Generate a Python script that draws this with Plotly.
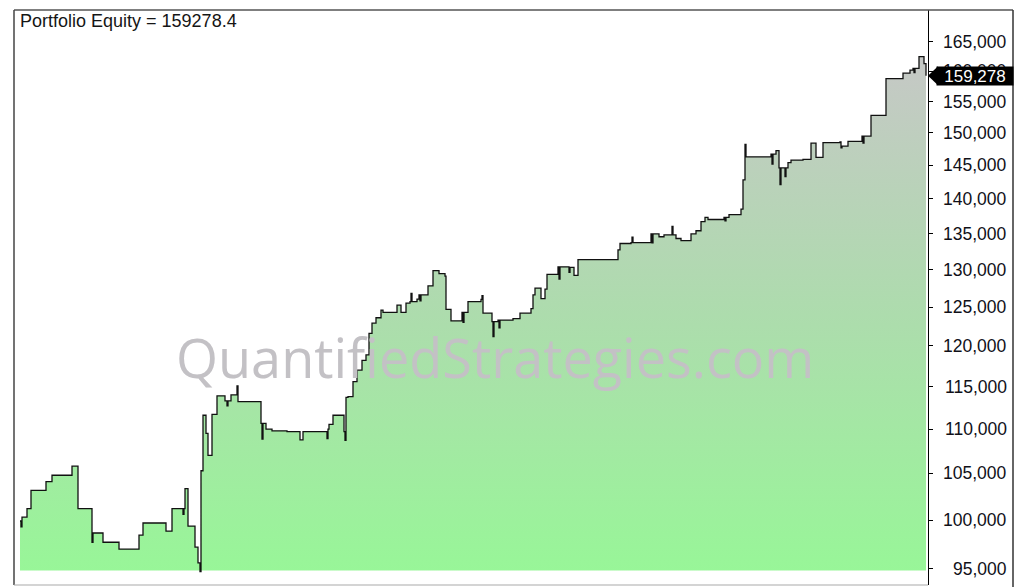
import numpy as np
import plotly.graph_objects as go

# ---------------- data ----------------
title_text = "Portfolio Equity = 159278.4"
watermark_text = "QuantifiedStrategies.com"
last_equity = 159278.4
base_level = 94850

day = [0, 1, 2, 7, 11, 26, 32, 52, 58, 72, 73, 83, 99, 119, 123, 146, 152, 163, 164, 165,
       168, 175, 178, 180, 181, 183, 186, 188, 192, 197, 205, 207, 208, 211, 217, 218, 241,
       242, 243, 246, 252, 267, 280, 283, 307, 308, 309, 313, 324, 325, 326, 328, 333, 337,
       342, 346, 349, 352, 356, 361, 363, 377, 381, 386, 390, 391, 392, 397, 399, 400, 401,
       408, 413, 419, 425, 426, 431, 442, 443, 444, 448, 461, 462, 463, 472, 473, 474, 478,
       479, 480, 493, 500, 511, 513, 515, 521, 525, 527, 538, 539, 540, 549, 550, 554, 558,
       598, 600, 611, 612, 613, 631, 632, 633, 639, 644, 651, 652, 653, 656, 661, 671, 676,
       681, 685, 688, 704, 705, 706, 709, 721, 723, 725, 726, 751, 752, 753, 756, 759, 760,
       761, 765, 766, 768, 771, 783, 791, 796, 803, 820, 821, 822, 828, 842, 843, 844, 851,
       866, 883, 890, 893, 894, 895, 899, 904, 906]
equity = [99900, 99300, 100300, 101200, 103150, 104100, 104800, 105800, 101200, 97700,
          98650, 97700, 97000, 98430, 99690, 98850, 101200, 100600, 101200, 103350, 99370,
          97200, 95610, 94750, 105300, 111600, 109500, 107000, 111700, 113900, 113300,
          112700, 113300, 114000, 115100, 113200, 110650, 108850, 110650, 110000, 109800,
          109700, 108750, 109700, 108900, 110000, 110540, 111600, 109700, 108700,
          113700, 113800, 115600, 117000, 118200, 118900, 121600, 122900, 123600, 124600,
          124300, 125240, 124300, 125500, 125700, 126800, 125700, 126040, 126600, 125800,
          126600, 127800, 129870, 129450, 129100, 124700, 123200, 124300, 123000, 124300,
          125700, 126000, 126500, 124200, 123100, 121200, 123100, 123300, 122300, 123300,
          123500, 124200, 124800, 126600, 127500, 126100, 127360, 129360, 130370, 128700,
          130370, 129630, 130300, 129200, 131370, 132700, 133600, 133730, 134500, 133730,
          134950, 133700, 134950, 134550, 134800, 134800, 136000, 134800, 134300, 134000,
          134950, 135400, 136700, 137300, 137000, 137300, 136800, 137300, 137700, 138500,
          142800, 148200, 146300, 146700, 145200, 146700, 147250, 144600, 142100, 144600,
          143300, 144600, 145420, 145800, 145900, 148400, 146200, 148500, 148600, 147700,
          147950, 148700, 149500, 148400, 149500, 152800, 158800, 159700, 160200, 160500,
          159800, 160500, 162500, 161300, 159278.4]

tick_values = [95000, 100000, 105000, 110000, 115000, 120000, 125000, 130000,
               135000, 140000, 145000, 150000, 155000, 160000, 165000]
tick_labels = [f"{v:,}" for v in tick_values]

# ---------------- geometry (page pixels; the page body has an 8px margin) ----------------
OFF = 8
W, H = 1026 - OFF, 587 - OFF
PL, PR, PT, PB = 14, 928, 10, 585          # plot area in page pixels
ML, MT = PL - OFF, PT - OFF
MR, MB = W - (PR - OFF), H - (PB - OFF)
PW, PH = PR - PL, PB - PT
Y0, Y1 = 4.97044, 5.23204


def px_x(p):
    return (p - PL) / PW


def px_y(p):
    return (PB - p) / PH


fig = go.Figure()

# baseline for the area fill
fig.add_trace(go.Scatter(
    x=[day[0], day[-1]], y=[base_level, base_level],
    mode="lines", line=dict(width=0, color="rgba(0,0,0,0)"),
    hoverinfo="skip", showlegend=False,
))

fig.add_trace(go.Scatter(
    x=day, y=equity, mode="lines",
    line=dict(color="#111111", width=1.3, shape="hv"),
    fill="tonexty",
    fillgradient=dict(type="vertical",
                      colorscale=[[0, "#98F698"], [0.5, "#ADDCAD"], [1, "#C6C8C6"]]),
    showlegend=False, hoverinfo="skip",
))

annotations = []
# tick labels, right aligned
for v, lab in zip(tick_values, tick_labels):
    annotations.append(dict(
        x=px_x(1009), xref="paper", y=np.log10(v), yref="y",
        text=lab, showarrow=False, xanchor="right", yanchor="middle",
        font=dict(family="Liberation Sans, Arial", size=17.5, color="#101018"),
    ))

# title
annotations.append(dict(
    x=px_x(18), xref="paper", y=px_y(9), yref="paper",
    text=title_text, showarrow=False, xanchor="left", yanchor="top",
    font=dict(family="Liberation Sans, Arial", size=18, color="#151515"),
))

# watermark
annotations.append(dict(
    x=px_x(495), xref="paper", y=px_y(357), yref="paper",
    text=watermark_text, showarrow=False, xanchor="center", yanchor="middle",
    font=dict(family="Open Sans", size=54, color="#C3C1C5"),
))

# last value box
last_paper_y = (np.log10(last_equity) - Y0) / (Y1 - Y0)
annotations.append(dict(
    x=px_x(936), xref="paper", y=last_paper_y, yref="paper",
    text=f"{round(last_equity):,}", showarrow=False, xanchor="left", yanchor="middle",
    font=dict(family="Liberation Sans, Arial", size=17, color="white"),
    bgcolor="black", width=74, height=16, borderpad=1, align="center",
))

shapes = [
    # arrow tip of the last value label
    dict(type="path", xref="paper", yref="paper", xsizemode="pixel", ysizemode="pixel",
         xanchor=1.0, yanchor=last_paper_y,
         path="M 0 0 L 10 9.5 L 10 -9.5 Z", fillcolor="black", line=dict(width=0)),
    # frame
    dict(type="line", xref="paper", yref="paper", x0=0, x1=px_x(1013), y0=1, y1=1,
         line=dict(color="#555555", width=1.5)),
    dict(type="line", xref="paper", yref="paper", x0=0, x1=0, y0=0, y1=1,
         line=dict(color="#444444", width=1.5)),
    dict(type="line", xref="paper", yref="paper", x0=0, x1=1, y0=0, y1=0,
         line=dict(color="#AAAAAA", width=1.2)),
    dict(type="line", xref="paper", yref="paper", x0=px_x(1013), x1=px_x(1013),
         y0=px_y(590), y1=1, line=dict(color="#333333", width=1.5)),
]

fig.update_layout(
    width=W, height=H,
    margin=dict(l=ML, r=MR, t=MT, b=MB),
    paper_bgcolor="white", plot_bgcolor="white",
    showlegend=False,
    xaxis=dict(visible=False, range=[-6, 908]),
    yaxis=dict(type="log", range=[Y0, Y1], side="right",
               showgrid=False, zeroline=False, showline=True,
               linecolor="black", linewidth=1,
               ticks="outside", ticklen=4, tickcolor="black",
               tickvals=tick_values, showticklabels=False),
    annotations=annotations,
    shapes=shapes,
)

fig.write_html("out.html")
